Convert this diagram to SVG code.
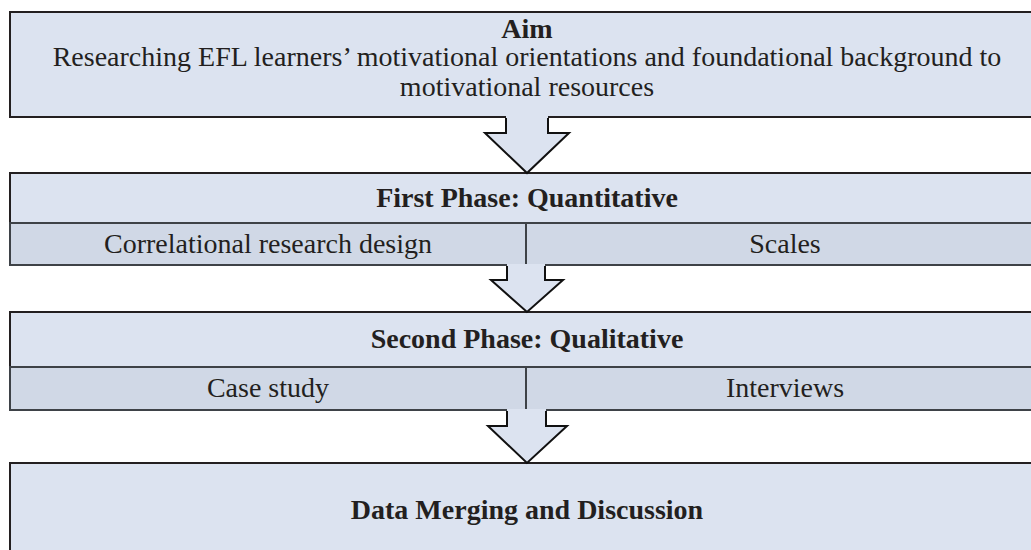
<svg xmlns="http://www.w3.org/2000/svg" width="1031" height="550" viewBox="0 0 1031 550">
<style>
.box{fill:#dce3f0;stroke:#231f20;stroke-width:2}
.sub{fill:#d0d8e6;stroke:#3e4247;stroke-width:2}
.div{stroke:#3e4247;stroke-width:2}
.t{font-family:"Liberation Serif",serif;font-size:28px;fill:#231f20;text-anchor:middle}
.b{font-weight:bold;font-size:28px}
.af{fill:#dce3f0;stroke:none}
.as{fill:none;stroke:#111;stroke-width:2;stroke-linejoin:miter}
</style>
<rect width="1031" height="550" fill="#fff"/>
<g id="aim">
<rect class="box" x="10" y="12" width="1040" height="105"/>
<text class="t b" x="527" y="38">Aim</text>
<text class="t" x="527" y="66">Researching EFL learners’ motivational orientations and foundational background to</text>
<text class="t" x="527" y="96">motivational resources</text>
</g>
<g id="phase1">
<rect class="box" x="10" y="173" width="1040" height="50"/>
<rect class="sub" x="10" y="223" width="1040" height="42"/>
<line class="div" x1="526" y1="223" x2="526" y2="265"/>
<text class="t b" x="527" y="207">First Phase: Quantitative</text>
<text class="t" x="268" y="253">Correlational research design</text>
<text class="t" x="785" y="253">Scales</text>
</g>
<g id="phase2">
<rect class="box" x="10" y="312" width="1040" height="55"/>
<rect class="sub" x="10" y="367" width="1040" height="43"/>
<line class="div" x1="526" y1="367" x2="526" y2="410"/>
<text class="t b" x="527" y="348">Second Phase: Qualitative</text>
<text class="t" x="268" y="397">Case study</text>
<text class="t" x="785" y="397">Interviews</text>
</g>
<g id="merge">
<rect class="box" x="10" y="463" width="1040" height="100"/>
<text class="t b" x="527" y="519">Data Merging and Discussion</text>
</g>
<g id="connectors">
<polygon class="af" points="506,115 506,133 485,133 527,173 569,133 548,133 548,115"/>
<polyline class="as" points="506,118 506,133 485,133 527,173 569,133 548,133 548,118"/>
<polygon class="af" points="507,264 507,280 491,280 527,312 563,280 545,280 545,264"/>
<polyline class="as" points="507,266 507,280 491,280 527,312 563,280 545,280 545,266"/>
<polygon class="af" points="507,409 507,426 488,426 527,463 567,426 546,426 546,409"/>
<polyline class="as" points="507,411 507,426 488,426 527,463 567,426 546,426 546,411"/>
</g>
</svg>
